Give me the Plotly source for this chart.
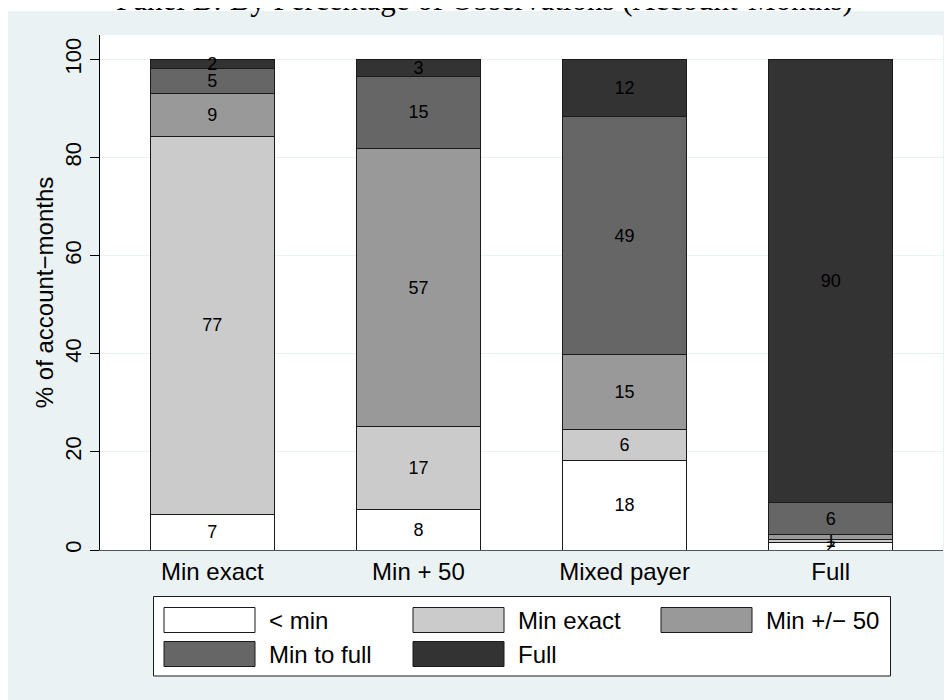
import plotly.graph_objects as go

# ---------------- data ----------------
categories = ["Min exact", "Min + 50", "Mixed payer", "Full"]
series_names = ["< min", "Min exact", "Min +/\u2212 50", "Min to full", "Full"]
lt_min      = [7.2, 8.2, 18.3, 1.6]
min_exact   = [77.2, 17.0, 6.2, 0.6]
min_pm50    = [8.6, 56.6, 15.3, 1.0]
min_to_full = [5.1, 14.8, 48.6, 6.4]
full        = [1.9, 3.4, 11.6, 90.4]
y_ticks = [0, 20, 40, 60, 80, 100]
title_text = "Panel B: By Percentage of Observations (Account-Months)"
y_title = "% of account\u2212months"

series_values = [lt_min, min_exact, min_pm50, min_to_full, full]
colors = ["#ffffff", "#cbcbcb", "#999999", "#666666", "#333333"]

# ---------------- geometry (page pixels; figure sits 8px in from page edge) ----------------
W, H = 952, 700
OFF = 8
PL, PR, PT, PB = 100, 943, 35, 550          # plot area in page pixels
L, R, T, B = PL - OFF, PR - OFF, PT - OFF, PB - OFF
BG = "#eaf2f3"
FONT = "Liberation Sans, Arial, Helvetica, sans-serif"


def px2x(px):  # page pixel -> paper x
    return (px - PL) / (PR - PL)


def py2y(py):  # page pixel -> paper y
    return (PB - py) / (PB - PT)


fig = go.Figure()
for name, vals, col in zip(series_names, series_values, colors):
    fig.add_trace(go.Bar(
        x=categories, y=vals, name=name,
        marker=dict(color=col, line=dict(color="#1a1a1a", width=1)),
        texttemplate="%{y:.0f}", textposition="inside",
        insidetextanchor="middle", textangle=0,
        insidetextfont=dict(family=FONT, size=18, color="#000000"),
        constraintext="none", showlegend=False, hoverinfo="skip",
    ))

shapes = []
# thin white strip at the very top (outside the grey-blue graph region)
shapes.append(dict(type="rect", xref="paper", yref="paper", layer="below",
                   x0=px2x(-20), x1=px2x(W + 20), y0=py2y(11), y1=py2y(-20),
                   fillcolor="#ffffff", line=dict(width=0)))

# legend box
shapes.append(dict(type="rect", xref="paper", yref="paper", layer="above",
                   x0=px2x(153.5), x1=px2x(890.5), y0=py2y(676), y1=py2y(596.5),
                   fillcolor="#ffffff", line=dict(color="#1a1a1a", width=1)))

annotations = []
col_x = [164, 413, 661]
row_y = [620, 654]
for i, (name, col) in enumerate(zip(series_names, colors)):
    r, c = divmod(i, 3)
    sx = col_x[c]
    cy = row_y[r]
    shapes.append(dict(type="rect", xref="paper", yref="paper", layer="above",
                       x0=px2x(sx), x1=px2x(sx + 91), y0=py2y(cy + 12.5), y1=py2y(cy - 12.5),
                       fillcolor=col, line=dict(color="#1a1a1a", width=1)))
    annotations.append(dict(text=name, xref="paper", yref="paper",
                            x=px2x(sx + 103), y=py2y(cy), xanchor="left", yanchor="middle",
                            showarrow=False, font=dict(family=FONT, size=24, color="#000000")))

# title (partially cut off at the top of the page)
annotations.append(dict(text=title_text, xref="paper", yref="paper",
                        x=px2x(484), y=py2y(19), xanchor="center", yanchor="bottom",
                        showarrow=False,
                        font=dict(family="Liberation Serif, DejaVu Serif, serif", size=31, color="#000000")))

fig.update_layout(
    width=W, height=H, autosize=False,
    margin=dict(l=L, r=W - R, t=T, b=H - B, pad=0),
    paper_bgcolor=BG, plot_bgcolor="#ffffff",
    barmode="stack", bargap=0.4,
    font=dict(family=FONT, size=22, color="#000000"),
    uniformtext=dict(minsize=18, mode="show"),
    shapes=shapes, annotations=annotations,
    showlegend=False,
)
fig.update_xaxes(
    range=[-0.545, 3.545], showgrid=False, ticks="",
    showline=True, linecolor="#555555", linewidth=1,
    tickfont=dict(family=FONT, size=24, color="#000000"),
    zeroline=False,
)
fig.update_yaxes(
    range=[0, 105], tickvals=y_ticks, tickangle=-90,
    ticks="outside", ticklen=9, tickcolor="#000000", tickwidth=1,
    showline=True, linecolor="#000000", linewidth=1,
    showgrid=True, gridcolor=BG, gridwidth=1, zeroline=False,
    tickfont=dict(family=FONT, size=22, color="#000000"),
    title=dict(text=y_title, font=dict(family=FONT, size=24, color="#000000"), standoff=0),
)

fig.write_html("out.html")
